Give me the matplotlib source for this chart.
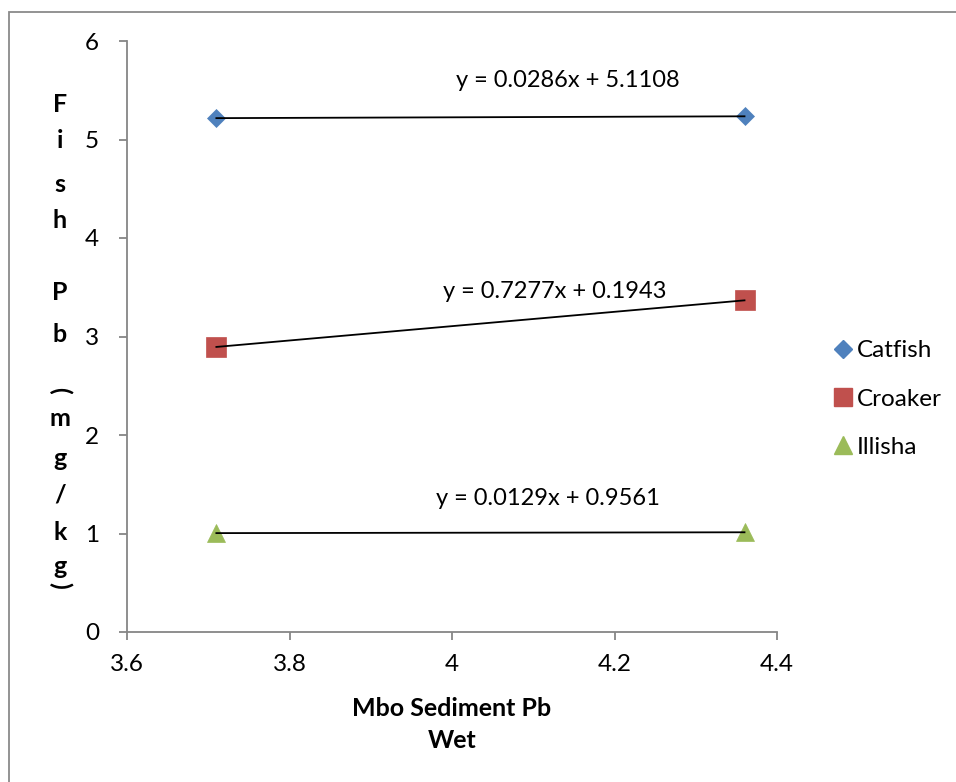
import matplotlib
matplotlib.use("Agg")
import matplotlib.pyplot as plt
from matplotlib.lines import Line2D
from matplotlib.patches import Rectangle
import numpy as np

# Sediment Pb (wet) at the two sampling points
sediment_pb = [3.71, 4.36]

# Fish Pb (mg/kg) per species
catfish = [5.217, 5.236]
croaker = [2.894, 3.367]
illisha = [1.004, 1.012]

# Linear trendline coefficients (slope, intercept)
catfish_fit = (0.0286, 5.1108)
croaker_fit = (0.7277, 0.1943)
illisha_fit = (0.0129, 0.9561)

species = ["Catfish", "Croaker", "Illisha"]
x_ticks = [3.6, 3.8, 4.0, 4.2, 4.4]
x_tick_labels = ["3.6", "3.8", "4", "4.2", "4.4"]
y_ticks = [0, 1, 2, 3, 4, 5, 6]

plt.rcParams["font.family"] = ["Lato", "DejaVu Sans"]

fig = plt.figure(figsize=(9.56, 7.82), dpi=100)
fig.patch.set_facecolor("white")

# outer chart-area frame
fig.add_artist(Rectangle((9 / 956, -0.05), 1.2, 1.05 - 11.5 / 782,
                         transform=fig.transFigure, fill=False,
                         edgecolor="#8a8a8a", linewidth=1.3))

ax = fig.add_axes([127 / 956, 150 / 782, 650 / 956, 591 / 782])

series = [
    (catfish, catfish_fit, "#4F81BD", "D", 9.5),
    (croaker, croaker_fit, "#C0504D", "s", 14),
    (illisha, illisha_fit, "#9BBB59", "^", 13),
]

xs = np.array(sediment_pb)
label_pos = [(4.142, 5.60), (4.126, 3.46), (4.118, 1.36)]
for (ys, (m, b), color, mk, ms), name, (lx, ly) in zip(series, species, label_pos):
    ax.plot(xs, ys, linestyle="none", marker=mk, markersize=ms,
            markerfacecolor=color, markeredgecolor=color, markeredgewidth=0.5,
            label=name, zorder=2)
    ax.plot(xs, m * xs + b, color="black", linewidth=1.3, zorder=3)
    ax.text(lx, ly, f"y = {m:.4f}x + {b:.4f}", ha="center", va="center",
            fontsize=17, color="black")

ax.set_xlim(3.6, 4.4)
ax.set_ylim(0, 6)
ax.set_xticks(x_ticks)
ax.set_xticklabels(x_tick_labels)
ax.set_yticks(y_ticks)

for s in ["top", "right"]:
    ax.spines[s].set_visible(False)
for s in ["left", "bottom"]:
    ax.spines[s].set_color("#868686")
    ax.spines[s].set_linewidth(1.3)
ax.tick_params(axis="both", direction="out", length=6, width=1.3,
               color="#868686", labelsize=17.5, labelcolor="black", pad=10)
ax.tick_params(axis="y", pad=14)

ax.set_xlabel("Mbo Sediment Pb\nWet", fontsize=18, fontweight="bold",
              labelpad=16, linespacing=1.45)

# stacked vertical y-axis title
y_chars = ["F", "i", "s", "h", "P", "b", "(", "m", "g", "/", "k", "g", ")"]
y_pix = [105, 140, 185, 220, 292, 335, 390, 418, 458, 495, 532, 567, 585]
for ch, yp in zip(y_chars, y_pix):
    rot = 0
    if ch == "(" or ch == ")":
        rot = -90
    fig.text(60 / 956, 1 - yp / 782, ch, ha="center", va="center",
             fontsize=18, fontweight="bold", rotation=rot)

handles = [Line2D([], [], linestyle="none", marker=mk, markersize=ms * 0.95,
                  markerfacecolor=c, markeredgecolor=c)
           for (_, _, c, mk, ms) in series]
fig.legend(handles, species, loc="center left",
           bbox_to_anchor=(824 / 956, 1 - 399 / 782), frameon=False,
           fontsize=17.5, handlelength=0.8, handletextpad=0.15,
           labelspacing=1.12, borderaxespad=0)

fig.savefig("out.png", dpi=100, facecolor="white")
